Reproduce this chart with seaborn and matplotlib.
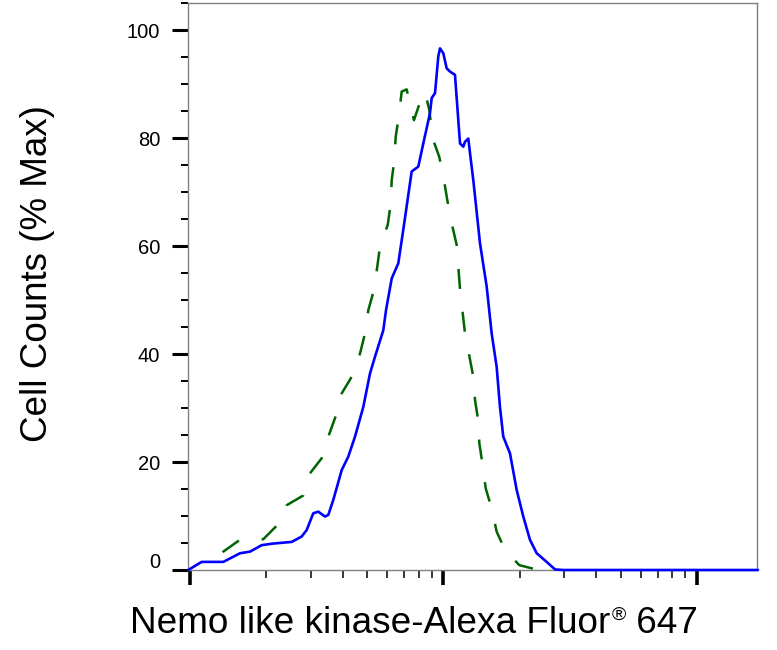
import numpy as np
import pandas as pd
import matplotlib
matplotlib.use("Agg")
import matplotlib.pyplot as plt
import seaborn as sns
from matplotlib.ticker import FixedLocator, NullFormatter, MultipleLocator
from matplotlib.transforms import ScaledTranslation

# ---- data ----
blue_x = [984, 1112, 1353, 1575, 1725, 1918, 2132, 2519, 2758, 2886, 3064, 3207, 3408, 3513,
          3676, 3967, 4212, 4476, 4827, 5130, 5368, 5789, 5933, 6248, 6633, 6940, 7491, 7954,
          8325, 8845, 8984, 9259, 9539, 9688, 9982, 10294, 10607, 11100, 11619, 11973, 12158,
          12528, 12723, 13110, 13932, 14803, 15491, 16210, 16704, 17211, 18294, 19446, 20644,
          21936, 23318, 25531, 27542, 29700, 174000]
blue_y = [0, 1.5, 1.5, 3.1, 3.4, 4.6, 4.9, 5.2, 6.2, 7.4, 10.5, 10.8, 9.9, 10.2,
          13.0, 18.5, 21.0, 24.7, 30.2, 36.4, 39.5, 44.4, 48.1, 54.0, 56.8, 63.0, 73.8, 74.7,
          79.0, 84.6, 87.4, 88.3, 95.1, 96.6, 95.7, 92.9, 92.3, 91.7, 79.0, 78.4, 79.3,
          79.9, 77.2, 72.2, 60.5, 52.5, 43.8, 37.6, 30.2, 24.7, 21.6, 14.8, 9.9,
          5.6, 3.1, 1.5, 0.1, 0, 0]

green_x = [1178, 1353, 1575, 1946, 2198, 2407, 2798, 2974, 3308, 3513, 3757, 3967, 4345,
           4685, 4901, 5051, 5318, 5481, 5617, 6026, 6192, 6248, 6397, 6478, 6675, 6840,
           7157, 7422, 7648, 8130, 8453, 8790, 9066, 9625, 10046, 10351, 10773, 11273,
           11619, 12158, 13110, 13316, 13723, 13846, 14282, 14680, 15491, 16210, 17488,
           19908, 23648]
green_y = [0, 3.4, 5.6, 5.7, 8.2, 12.0, 13.8, 17.9, 20.7, 24.7, 28.5, 32.7, 35.8,
           40.1, 43.8, 48.1, 51.9, 56.2, 59.9, 63.9, 67.9, 72.2, 75.9, 80.2, 84.3, 88.6,
           89.0, 85.8, 83.3, 87.0, 88.5, 85.2, 79.9, 76.5, 72.2, 68.5, 64.2, 60.2,
           52.0, 43.8, 35.8, 31.5, 27.5, 23.5, 19.3, 15.1, 11.4, 7.1, 3.7,
           0.9, 0]

y_ticks = [0, 20, 40, 60, 80, 100]
y_ticklabels = ["0", "20", "40", "60", "80", "100"]
x_major = [1e3, 1e4, 1e5]
x_label = "Nemo like kinase-Alexa Fluor"
x_label_sup = "®"
x_label_end = " 647"
y_label = "Cell Counts (% Max)"

blue_df = pd.DataFrame({"x": blue_x, "y": blue_y})
green_df = pd.DataFrame({"x": green_x, "y": green_y})

sns.set_style("ticks")
plt.rcParams["font.family"] = ["Liberation Sans", "DejaVu Sans"]

W, H = 777, 650
fig = plt.figure(figsize=(W / 100, H / 100), dpi=100)
ax = fig.add_axes([188 / W, 1 - 570 / H, (757 - 188) / W, (570 - 3) / H])

sns.lineplot(data=green_df, x="x", y="y", ax=ax, color="#006400", linewidth=1.8,
             linestyle=(8, (8, 9.2)), estimator=None, sort=False, zorder=3, clip_on=False)
sns.lineplot(data=blue_df, x="x", y="y", ax=ax, color="#0000ff", linewidth=1.9,
             estimator=None, sort=False, zorder=4, clip_on=False)

ax.set_xscale("log")
ax.set_xlim(982, 172500)
ax.set_ylim(0, 105)
ax.set_xlabel("")
ax.set_ylabel("")

x_minor = [m * 10 ** e for e in (2, 3, 4, 5) for m in range(2, 10)]
ax.xaxis.set_major_locator(FixedLocator(x_major))
ax.xaxis.set_minor_locator(FixedLocator(x_minor))
ax.xaxis.set_major_formatter(NullFormatter())
ax.xaxis.set_minor_formatter(NullFormatter())
ax.set_yticks(y_ticks, labels=y_ticklabels)
ax.yaxis.set_minor_locator(MultipleLocator(5))

for s in ax.spines.values():
    s.set_color("#808080")
    s.set_linewidth(1.0)
    s.set_visible(True)

ax.tick_params(axis="x", which="major", length=11, width=2.6, color="black", direction="out")
ax.tick_params(axis="x", which="minor", length=6, width=1.1, color="black", direction="out")
ax.tick_params(axis="y", which="major", length=11.5, width=2.2, color="black", direction="out",
               pad=8.6, labelsize=14.5, labelcolor="black")
ax.tick_params(axis="y", which="minor", length=5, width=1.4, color="black", direction="out")

for lab in ax.get_yticklabels():
    if lab.get_text() == "0":
        lab.set_transform(lab.get_transform() + ScaledTranslation(0, 9 / 100, fig.dpi_scale_trans))

# y label
fig.text(37.5 / W, 1 - 274 / H, y_label, rotation=90, fontsize=26.5,
         ha="center", va="center", color="black")

# x label with superscript registered sign
base_y = 1 - 632.7 / H
t1 = fig.text(130 / W, base_y, x_label, fontsize=26.6, ha="left", va="baseline", color="black")
fig.canvas.draw()
r = fig.canvas.get_renderer()
bb1 = t1.get_window_extent(r)
t2 = fig.text((bb1.x1 + 1) / W, base_y + 12.5 / H, x_label_sup, fontsize=14,
              ha="left", va="baseline", color="black")
bb2 = t2.get_window_extent(r)
fig.text(bb2.x1 / W, base_y, x_label_end, fontsize=26.6, ha="left", va="baseline", color="black")

fig.savefig("out.png", dpi=100)
